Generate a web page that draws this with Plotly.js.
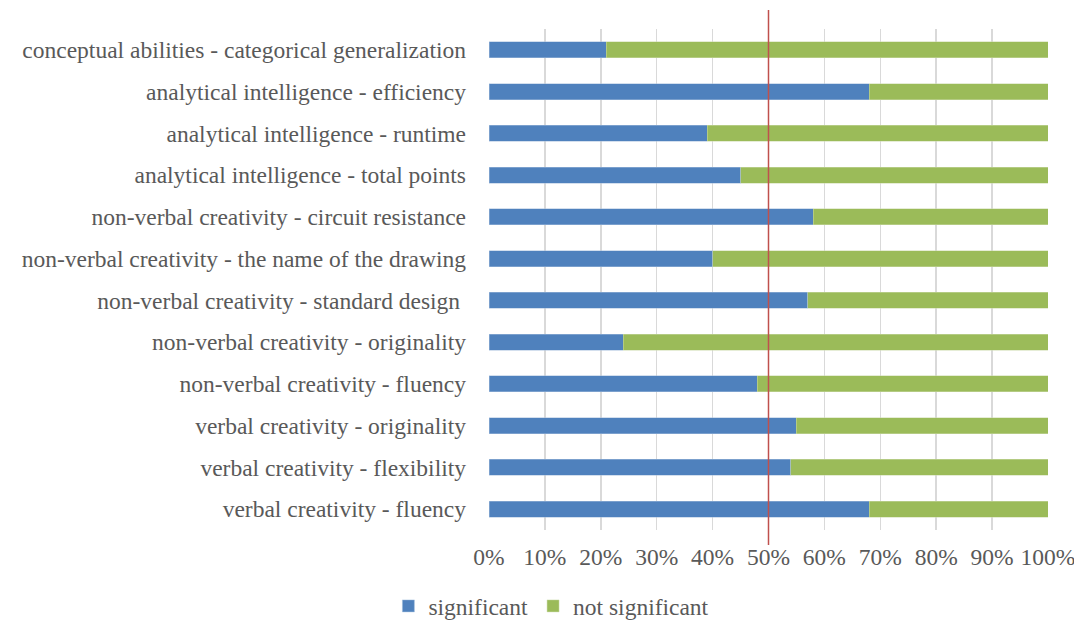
<!DOCTYPE html>
<html>
<head>
<meta charset="utf-8">
<script src="https://cdn.plot.ly/plotly-3.0.1.min.js"></script>
<style>html,body{margin:0;padding:0;background:#fff;}#chart{width:1074px;height:622px;}</style>
</head>
<body>
<div id="chart"></div>
<script>
const categories = [
  "conceptual abilities - categorical generalization",
  "analytical intelligence - efficiency",
  "analytical intelligence - runtime",
  "analytical intelligence - total points",
  "non-verbal creativity - circuit resistance",
  "non-verbal creativity - the name of the drawing",
  "non-verbal creativity - standard design ",
  "non-verbal creativity - originality",
  "non-verbal creativity - fluency",
  "verbal creativity - originality",
  "verbal creativity - flexibility",
  "verbal creativity - fluency"
];
const significant = [21, 68, 39, 45, 58, 40, 57, 24, 48, 55, 54, 68];
const notSignificant = [79, 32, 61, 55, 42, 60, 43, 76, 52, 45, 46, 32];
const xTickVals = [0,10,20,30,40,50,60,70,80,90,100];
const xTickText = ["0%","10%","20%","30%","40%","50%","60%","70%","80%","90%","100%"];
const thresholdPct = 50;

const font = {family: "Liberation Serif, Times New Roman, serif", size: 23.5, color: "#595959"};

const traces = [
  {type:'bar', orientation:'h', name:'significant', y:categories, x:significant,
   marker:{color:'#4f81bd', line:{color:'#a7c0de', width:0.5}}, hoverinfo:'x+y'},
  {type:'bar', orientation:'h', name:'not significant', y:categories, x:notSignificant,
   marker:{color:'#9bbb59', line:{color:'#cddcad', width:0.5}}, hoverinfo:'x+y'}
];

const layout = {
  width:1074, height:622,
  barmode:'stack', bargap:0.616,
  margin:{l:489, r:26, t:29, b:92, pad:0, autoexpand:false},
  paper_bgcolor:'#fff', plot_bgcolor:'#fff',
  font:font,
  showlegend:true,
  legend:{orientation:'h', x:-0.18, xanchor:'left', y:-0.108, yanchor:'top',
          font:font, itemwidth:30, traceorder:'normal'},
  xaxis:{range:[0,100], tickvals:xTickVals, ticktext:xTickText,
         showgrid:true, gridcolor:'#d9d9d9', gridwidth:1.5, zeroline:false,
         showline:false, ticks:'', tickfont:font, ticklabelstandoff:10,
         ticklabeloverflow:'allow', fixedrange:true},
  yaxis:{type:'category', autorange:'reversed', showgrid:false, zeroline:false,
         showline:false, ticks:'', tickfont:font, ticklabelstandoff:22,
         ticklabeloverflow:'allow', fixedrange:true},
  shapes:[
    {type:'line', xref:'x', yref:'paper', x0:thresholdPct, x1:thresholdPct,
     y0:-0.03, y1:1.038, line:{color:'#c0504d', width:1.5}, layer:'above'}
  ]
};

Plotly.newPlot('chart', traces, layout, {displayModeBar:false, staticPlot:true});
</script>
</body>
</html>
